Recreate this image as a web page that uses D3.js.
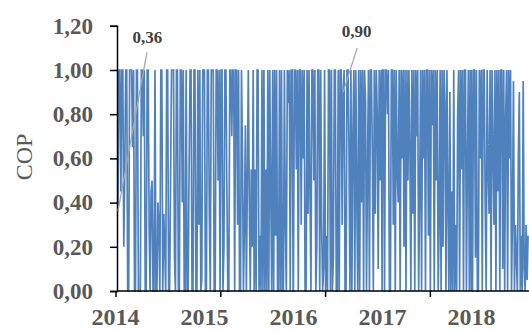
<!DOCTYPE html>
<html>
<head>
<meta charset="utf-8">
<script src="https://cdn.jsdelivr.net/npm/d3@7"></script>
<style>
  html, body { margin: 0; padding: 0; background: #ffffff; }
  svg { display: block; }
</style>
</head>
<body>
<svg id="chart" width="529" height="332"></svg>
<script>
// Daily COP readings, sampled every 4 days, one array per year.
const cop2014 = [
  0.36, 1, 1, 0.45, 1, 1, 0.2, 0.55, 1, 1,
  0, 0, 1, 1, 1, 0.65, 1, 0, 0, 1,
  1, 0, 0, 0, 1, 1, 0.7, 1, 0, 0,
  1, 1, 0.3, 0, 0.45, 0.5, 0, 0, 1, 0,
  0, 0.4, 0.3, 0, 1, 1, 0, 0.35, 0.2, 0,
  1, 1, 0, 0, 0.5, 1, 1, 1, 0.15, 0,
  1, 1, 0, 0, 1, 1, 0.4, 1, 0, 0,
  1, 0, 0, 0.55, 1, 1, 0, 0, 1, 1,
  0, 0, 1, 0.3, 1, 0, 0.05, 1, 1
];
const cop2015 = [
  1, 0, 0, 1, 1, 0.35, 0, 1, 1, 1,
  0, 0, 1, 1, 0.5, 1, 0, 1, 1, 0,
  0.2, 1, 1, 0.45, 0, 0, 1, 1, 0.7, 1,
  1, 0, 1, 1, 0.3, 1, 0, 0, 1, 0.6,
  0, 0.3, 0.75, 0, 0.5, 1, 0.4, 0, 0.55, 0.2,
  1, 0, 0.55, 0, 1, 1, 0, 0.25, 0, 1,
  0, 1, 0, 0.55, 0, 1, 0, 1, 0.45, 0,
  1, 0, 1, 0.25, 1, 0, 0, 1, 0, 1,
  0, 0, 1, 0.3, 0, 1, 0.85, 1, 0, 1,
  1, 0
];
const cop2016 = [
  0, 1, 1, 0.55, 1, 0, 1, 1, 0.3, 1,
  0.6, 1, 0, 0, 1, 0.35, 1, 0.45, 0, 1,
  1, 0.5, 1, 0, 0.2, 1, 1, 0, 1, 0.3,
  0, 0.1, 1, 0, 0.25, 0, 1, 1, 0, 1,
  0, 0.15, 1, 1, 0, 0, 1, 0, 1, 1,
  0.3, 0.9, 1, 0, 0, 1, 1, 0.65, 0, 1,
  0, 0.7, 1, 0, 1, 0.45, 0, 1, 0, 1,
  0.4, 1, 0, 1, 0.85, 0, 0.55, 1, 0, 1,
  1, 0.6, 0, 1, 0.35, 1, 0.8, 0.1, 1, 0.5,
  1, 0
];
const cop2017 = [
  1, 1, 0, 1, 1, 0.8, 1, 0, 0, 1,
  1, 0.3, 1, 0, 1, 0.55, 0.4, 1, 0, 1,
  0.6, 1, 0.2, 1, 0, 1, 0.5, 1, 0.65, 0,
  1, 0.35, 1, 0, 1, 0.7, 1, 0, 0.45, 1,
  0, 1, 0.6, 1, 0, 1, 1, 0.25, 1, 0,
  1, 0.75, 1, 0, 1, 0.5, 1, 0, 0.3, 1,
  0, 1, 0.2, 1, 0.85, 0, 1, 0.4, 0, 0.9,
  0, 0.45, 0, 1, 0, 0.3, 0, 0.8, 1, 0,
  1, 0.55, 1, 0, 1, 1, 0, 0.6, 1, 0,
  1, 0
];
const cop2018 = [
  1, 0, 1, 1, 0.15, 1, 0, 0, 1, 0.6,
  1, 0, 1, 1, 0.4, 0, 1, 0.55, 0.35, 1,
  0, 1, 0.65, 0.3, 1, 0, 1, 0.45, 1, 0,
  1, 1, 0.1, 1, 0, 0.8, 1, 0, 1, 0.6,
  1, 0, 0.35, 0.95, 0, 0.3, 0.15, 0, 0.6, 0.9,
  0, 0.25, 0, 0.95, 0.1, 0, 0.3, 0.05, 0.25
];

// Year, first sampled day of that year (0 = 1 January), readings.
const yearBlocks = [
  [2014, 10, cop2014],
  [2015, 0, cop2015],
  [2016, 0, cop2016],
  [2017, 0, cop2017],
  [2018, 0, cop2018]
];
const sampleStepDays = 4;

const yTicks = [0, 0.2, 0.4, 0.6, 0.8, 1.0, 1.2];
const yearLabels = [2014, 2015, 2016, 2017, 2018];
const tickDates = ["2014-01-01", "2015-03-07", "2016-05-10", "2017-07-14", "2018-09-17"];

// Highlighted readings with their callout labels.
const callouts = [
  { date: "2014-01-11", value: 0.36 },
  { date: "2016-07-23", value: 0.90 }
];

const series = [];
yearBlocks.forEach(([year, firstDay, values]) => {
  values.forEach((v, i) => {
    series.push({ date: new Date(year, 0, 1 + firstDay + sampleStepDays * i), value: v });
  });
});

const parse = d3.timeParse("%Y-%m-%d");
const commaFmt = v => d3.format(".2f")(v).replace(".", ",");

const svg = d3.select("#chart");

const x = d3.scaleTime()
  .domain([new Date(2014, 0, 1), new Date(2019, 0, 1)])
  .range([115.5, 115.5 + 5 * 89]);
const y = d3.scaleLinear().domain([0, 1.2]).range([291, 25.8]);

// Series line
const line = d3.line().x(d => x(d.date)).y(d => y(d.value));
svg.append("path")
  .datum(series)
  .attr("d", line)
  .attr("fill", "none")
  .attr("stroke", "#4f81bd")
  .attr("stroke-width", 1.7);

// Y axis
const yAxis = svg.append("g")
  .attr("transform", "translate(117,0)")
  .call(d3.axisLeft(y).tickValues(yTicks).tickFormat(commaFmt).tickSize(7).tickPadding(17));
yAxis.select(".domain").attr("stroke", "#000").attr("stroke-width", 1.5);
yAxis.selectAll(".tick line").attr("stroke", "#000").attr("stroke-width", 1.5);
yAxis.selectAll(".tick text")
  .attr("fill", "#595959")
  .style("font-family", "'Liberation Serif', serif")
  .style("font-weight", "bold")
  .style("font-size", "23px");

// X axis: tick marks along the time line
const xAxis = svg.append("g")
  .attr("transform", "translate(0,291)")
  .call(d3.axisBottom(x).tickValues(tickDates.map(parse)).tickFormat("").tickSize(6).tickSizeOuter(0));
xAxis.select(".domain").attr("stroke", "#000").attr("stroke-width", 1.5)
  .attr("d", `M117,0H529`);
xAxis.selectAll(".tick line").attr("stroke", "#000").attr("stroke-width", 1.5);

// Year labels
svg.append("g")
  .selectAll("text")
  .data(yearLabels)
  .join("text")
  .attr("x", d => x(new Date(d, 0, 1)))
  .attr("y", 325)
  .attr("text-anchor", "middle")
  .attr("fill", "#595959")
  .style("font-family", "'Liberation Serif', serif")
  .style("font-weight", "bold")
  .style("font-size", "24px")
  .text(d => d);

// Axis title
svg.append("text")
  .attr("transform", "translate(32,157) rotate(-90)")
  .attr("text-anchor", "middle")
  .attr("fill", "#595959")
  .style("font-family", "'Liberation Serif', serif")
  .style("font-size", "24px")
  .text("COP");

// Callouts: label above the plot with a leader line to the reading
const calloutOffsets = [
  { tx: 29.5, ty: -168, lx: 29, ly: -159 },
  { tx: 13.5, ty: -55, lx: 14, ly: -44 }
];
callouts.forEach((c, i) => {
  const px = x(parse(c.date));
  const py = y(c.value);
  const o = calloutOffsets[i];
  svg.append("line")
    .attr("x1", px + o.lx).attr("y1", py + o.ly)
    .attr("x2", px).attr("y2", py)
    .attr("stroke", "#a6a6a6")
    .attr("stroke-width", 1.3);
  svg.append("text")
    .attr("x", px + o.tx)
    .attr("y", py + o.ty)
    .attr("text-anchor", "middle")
    .attr("fill", "#404040")
    .style("font-family", "'Liberation Serif', serif")
    .style("font-weight", "bold")
    .style("font-size", "17px")
    .text(commaFmt(c.value));
});
</script>
</body>
</html>
